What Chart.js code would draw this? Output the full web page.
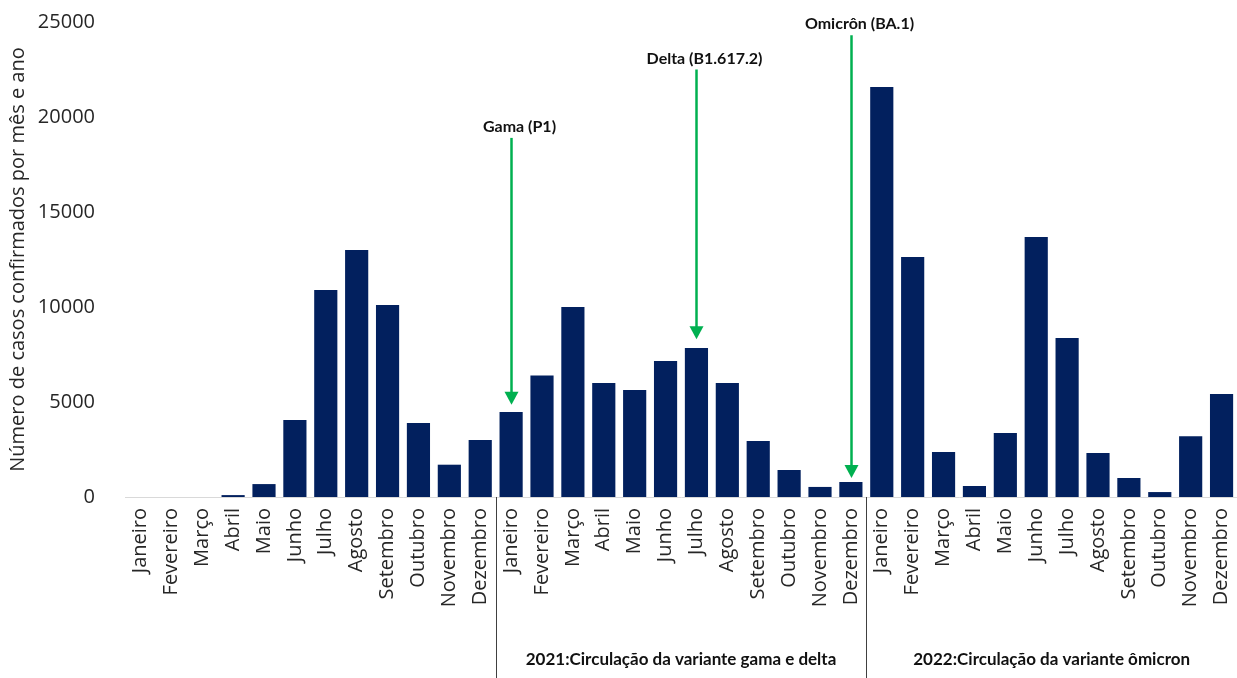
<!DOCTYPE html>
<html>
<head>
<meta charset="utf-8">
<script src="https://cdn.jsdelivr.net/npm/chart.js@4.4.1/dist/chart.umd.min.js"></script>
<style>
  html, body { margin: 0; padding: 0; background: #fff; }
  #wrap { position: relative; width: 1237px; height: 678px; }
</style>
</head>
<body>
<div id="wrap"><canvas id="chart"></canvas></div>
<script>
const months = ["Janeiro", "Fevereiro", "Março", "Abril", "Maio", "Junho", "Julho",
  "Agosto", "Setembro", "Outubro", "Novembro", "Dezembro"];

// confirmed cases per month
const cases2020 = [0, 0, 0, 100, 680, 4050, 10900, 13000, 10100, 3900, 1700, 3000];
const cases2021 = [4470, 6400, 10000, 6000, 5630, 7160, 7840, 6000, 2950, 1420, 530, 790];
const cases2022 = [21580, 12630, 2370, 580, 3370, 13680, 8370, 2320, 1000, 260, 3200, 5420];

const yTicks = [0, 5000, 10000, 15000, 20000, 25000];

// variant arrivals: month index in the full series, arrow start / end value
const variantNames = ["Gama (P1)", "Delta (B1.617.2)", "Omicrôn (BA.1)"];
const variantMonth = [12, 18, 23];
const variantFrom = [18900, 22500, 24300];
const variantTo = [4850, 8300, 1000];

const groupTitles = ["2021:Circulação da variante gama e delta", "2022:Circulação da variante ômicron"];
const groupStart = [12, 24];

const labels = [...months, ...months, ...months];
const values = [...cases2020, ...cases2021, ...cases2022];

const FONT = "'Open Sans'";
Chart.defaults.font.family = FONT;

const arrowsPlugin = {
  id: "variantArrows",
  afterDatasetsDraw(chart) {
    const { ctx, scales: { x, y } } = chart;
    ctx.save();
    variantNames.forEach((name, i) => {
      const px = Math.round(x.getPixelForValue(variantMonth[i])) + 0.5;
      const y1 = y.getPixelForValue(variantFrom[i]);
      const y2 = y.getPixelForValue(variantTo[i]);
      const head = 13;
      ctx.strokeStyle = "#00b050";
      ctx.fillStyle = "#00b050";
      ctx.lineWidth = 2.5;
      ctx.beginPath();
      ctx.moveTo(px, y1);
      ctx.lineTo(px, y2 - head + 1);
      ctx.stroke();
      ctx.beginPath();
      ctx.moveTo(px - 7, y2 - head);
      ctx.lineTo(px + 7, y2 - head);
      ctx.lineTo(px, y2);
      ctx.closePath();
      ctx.fill();

      ctx.fillStyle = "#111";
      ctx.font = "bold 16px Lato";
      ctx.textAlign = "center";
      ctx.textBaseline = "bottom";
      ctx.fillText(name, px + 8, y1 - 3);
    });
    ctx.restore();
  }
};

const groupsPlugin = {
  id: "yearGroups",
  afterDraw(chart) {
    const { ctx, chartArea, scales: { x } } = chart;
    const step = x.getPixelForValue(1) - x.getPixelForValue(0);
    ctx.save();
    ctx.strokeStyle = "#404040";
    ctx.lineWidth = 1;
    groupStart.forEach((start, i) => {
      const left = Math.round(x.getPixelForValue(start) - step / 2) + 0.5;
      ctx.beginPath();
      ctx.moveTo(left, chartArea.bottom);
      ctx.lineTo(left, chart.height);
      ctx.stroke();
      const centre = x.getPixelForValue(start + 5.5);
      ctx.fillStyle = "#111";
      ctx.font = "bold 17px Lato";
      ctx.textAlign = "center";
      ctx.textBaseline = "middle";
      ctx.fillText(groupTitles[i], centre, 660);
    });
    ctx.restore();
  }
};

new Chart(document.getElementById("chart"), {
  type: "bar",
  data: {
    labels: labels,
    datasets: [{
      data: values,
      backgroundColor: "#02205e",
      borderWidth: 0,
      barPercentage: 0.75,
      categoryPercentage: 1
    }]
  },
  options: {
    responsive: true,
    maintainAspectRatio: false,
    animation: false,
    layout: { padding: { top: 22, right: 0, bottom: 0, left: 4 } },
    plugins: {
      legend: { display: false },
      tooltip: { enabled: false }
    },
    scales: {
      x: {
        grid: { display: false },
        border: { display: true, color: "#d9d9d9", width: 1 },
        afterFit(scale) {
          scale.height = 181;
          scale.paddingLeft = 0;
          scale.paddingRight = 0;
        },
        ticks: {
          color: "#262626",
          font: { family: FONT, size: 20 },
          maxRotation: 90,
          minRotation: 90,
          autoSkip: false,
          padding: 3
        }
      },
      y: {
        min: 0,
        max: 25000,
        grid: { display: false },
        border: { display: false },
        afterBuildTicks(axis) {
          axis.ticks = yTicks.map(v => ({ value: v }));
        },
        afterFit(scale) {
          scale.width = 121;
          scale.paddingTop = 0;
          scale.paddingBottom = 0;
        },
        ticks: {
          color: "#262626",
          font: { family: FONT, size: 20 },
          padding: 22,
          callback: v => String(v)
        },
        title: {
          display: true,
          text: "Número de casos confirmados por mês e ano",
          color: "#262626",
          font: { family: FONT, size: 20 },
          padding: { top: 2, bottom: 0 }
        }
      }
    }
  },
  plugins: [arrowsPlugin, groupsPlugin]
});
</script>
</body>
</html>
